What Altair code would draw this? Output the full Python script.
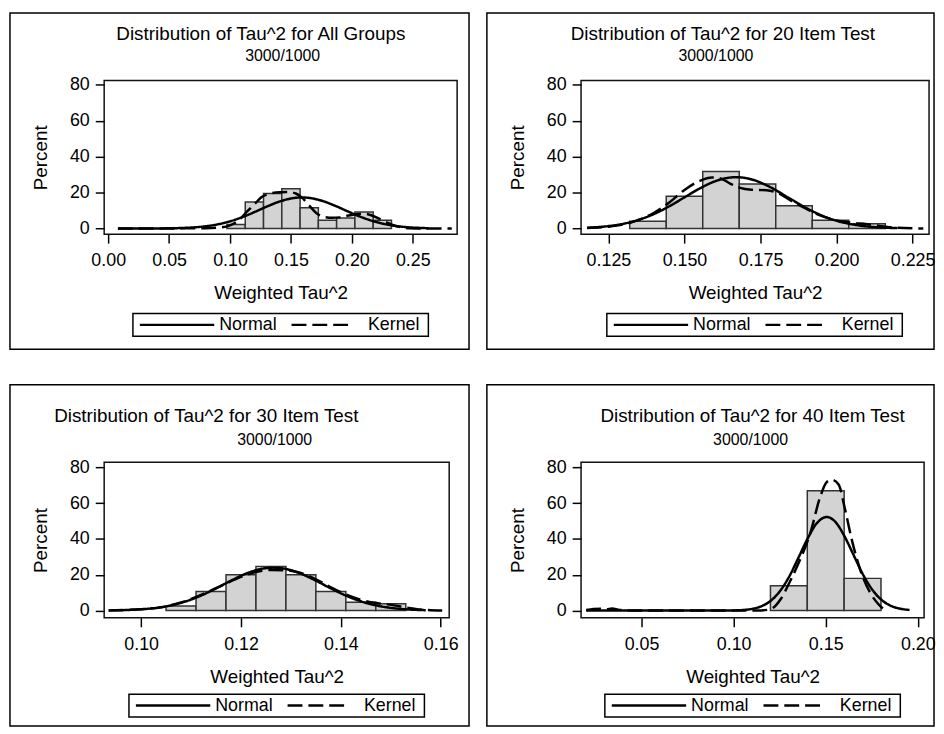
import altair as alt
import pandas as pd

FONT = "Liberation Sans"

titles = [
    "Distribution of Tau^2 for All Groups",
    "Distribution of Tau^2 for 20 Item Test",
    "Distribution of Tau^2 for 30 Item Test",
    "Distribution of Tau^2 for 40 Item Test",
]
subtitle = "3000/1000"
x_title = "Weighted Tau^2"
y_title = "Percent"
curve_names = ["Normal", "Kernel"]
y_ticks = [0, 20, 40, 60, 80]

# ---------------- Panel 1: All Groups ----------------
p1_bin_lo = [0.0975, 0.1125, 0.1275, 0.1425, 0.1575, 0.1725, 0.1875, 0.2025, 0.2175]
p1_bin_hi = [0.1125, 0.1275, 0.1425, 0.1575, 0.1725, 0.1875, 0.2025, 0.2175, 0.2325]
p1_pct = [2.2, 14.7, 19.5, 22.1, 11.6, 4.6, 5.9, 9.2, 4.6]
p1_norm_x = [0.008, 0.031, 0.051, 0.061, 0.071, 0.081, 0.091, 0.101, 0.111, 0.121, 0.131,
             0.141, 0.151, 0.159, 0.166, 0.176, 0.186, 0.196, 0.206, 0.216, 0.226, 0.236,
             0.246, 0.256, 0.263]
p1_norm_y = [0.0, 0.02, 0.13, 0.31, 0.67, 1.34, 2.48, 4.21, 6.57, 9.44, 12.45, 15.1, 16.84,
             17.3, 16.95, 15.32, 12.74, 9.74, 6.84, 4.42, 2.62, 1.43, 0.72, 0.33, 0.17]
p1_kern_x = [0.008, 0.05, 0.08, 0.092, 0.1, 0.107, 0.114, 0.12, 0.126, 0.133, 0.141, 0.148,
             0.154, 0.159, 0.165, 0.171, 0.177, 0.184, 0.19, 0.197, 0.204, 0.21, 0.216, 0.222,
             0.228, 0.234, 0.24, 0.248, 0.26, 0.282]
p1_kern_y = [0.0, 0.05, 0.2, 0.6, 1.8, 4.5, 9.5, 13.5, 17.5, 19.5, 20.2, 20.3, 19.5, 17.2,
             12.8, 8.5, 6.5, 6.0, 6.2, 7.2, 8.0, 8.3, 7.4, 5.6, 3.6, 1.8, 0.7, 0.2, 0.05, 0.0]
p1_ticks = [0.00, 0.05, 0.10, 0.15, 0.20, 0.25]

# ---------------- Panel 2: 20 Item Test ----------------
p2_bin_lo = [0.132, 0.144, 0.156, 0.168, 0.180, 0.192, 0.204]
p2_bin_hi = [0.144, 0.156, 0.168, 0.180, 0.192, 0.204, 0.216]
p2_pct = [4.0, 18.0, 31.8, 24.8, 12.7, 4.6, 2.6]
p2_norm_x = [0.118, 0.125, 0.13, 0.135, 0.14, 0.145, 0.15, 0.155, 0.16, 0.167, 0.172, 0.178,
             0.184, 0.19, 0.196, 0.202, 0.208, 0.214, 0.22]
p2_norm_y = [0.45, 1.35, 2.68, 4.87, 8.1, 12.38, 17.35, 22.29, 26.28, 28.6, 27.39, 23.2,
             17.35, 11.45, 6.67, 3.43, 1.56, 0.63, 0.22]
p2_kern_x = [0.118, 0.125, 0.13, 0.135, 0.14, 0.145, 0.15, 0.155, 0.159, 0.162, 0.165, 0.168,
             0.172, 0.177, 0.181, 0.185, 0.19, 0.195, 0.2, 0.205, 0.21, 0.215, 0.22, 0.2285]
p2_kern_y = [0.3, 1.0, 2.3, 4.8, 8.8, 14.5, 21.5, 26.5, 28.4, 27.8, 25.0, 22.8, 21.6, 21.3,
             19.5, 15.5, 11.0, 7.0, 4.5, 3.2, 2.4, 1.3, 0.4, 0.0]
p2_ticks = [0.125, 0.150, 0.175, 0.200, 0.225]

# ---------------- Panel 3: 30 Item Test ----------------
p3_bin_lo = [0.105, 0.111, 0.117, 0.123, 0.129, 0.135, 0.141, 0.147]
p3_bin_hi = [0.111, 0.117, 0.123, 0.129, 0.135, 0.141, 0.147, 0.153]
p3_pct = [2.6, 10.6, 20.0, 24.7, 20.0, 10.6, 4.6, 3.8]
p3_norm_x = [0.0935, 0.097, 0.1, 0.103, 0.106, 0.109, 0.112, 0.115, 0.118, 0.121, 0.124,
             0.1265, 0.129, 0.132, 0.135, 0.138, 0.141, 0.144, 0.147, 0.15, 0.153, 0.157]
p3_norm_y = [0.1, 0.31, 0.72, 1.52, 2.94, 5.19, 8.39, 12.39, 16.73, 20.63, 23.26, 24.0,
             23.26, 20.63, 16.73, 12.39, 8.39, 5.19, 2.94, 1.52, 0.72, 0.23]
p3_kern_x = [0.0935, 0.1, 0.104, 0.108, 0.112, 0.116, 0.12, 0.123, 0.126, 0.129, 0.132, 0.135,
             0.138, 0.141, 0.144, 0.147, 0.15, 0.153, 0.156, 0.1603]
p3_kern_y = [0.1, 0.8, 1.8, 4.6, 8.8, 13.8, 18.8, 21.6, 22.7, 22.5, 21.0, 17.5, 13.0, 9.0,
             6.0, 4.2, 3.2, 1.8, 0.6, 0.0]
p3_ticks = [0.10, 0.12, 0.14, 0.16]

# ---------------- Panel 4: 40 Item Test ----------------
p4_bin_lo = [0.12, 0.14, 0.16]
p4_bin_hi = [0.14, 0.16, 0.18]
p4_pct = [13.9, 67.0, 18.0]
p4_norm_x = [0.02, 0.06, 0.09, 0.1, 0.105, 0.11, 0.115, 0.12, 0.125, 0.13, 0.135, 0.14, 0.145,
             0.1505, 0.155, 0.16, 0.165, 0.17, 0.175, 0.18, 0.185, 0.19, 0.1955]
p4_norm_y = [0.0, 0.0, 0.01, 0.1, 0.33, 0.95, 2.4, 5.38, 10.67, 18.7, 29.1, 39.9, 48.6, 52.3,
             49.8, 41.9, 31.3, 20.6, 12.06, 6.23, 2.85, 1.15, 0.37]
p4_kern_x = [0.02, 0.024, 0.028, 0.031, 0.034, 0.038, 0.045, 0.06, 0.1, 0.115, 0.12, 0.1256,
             0.13, 0.1346, 0.1417, 0.1471, 0.1507, 0.1534, 0.157, 0.1605, 0.1641, 0.1686,
             0.174, 0.1785, 0.182]
p4_kern_y = [0.3, 0.9, 1.1, 0.6, 1.2, 0.4, 0.05, 0.0, 0.0, 0.1, 0.8, 6.5, 15.0, 25.0, 43.5,
             63.9, 72.0, 73.0, 70.4, 56.5, 39.8, 23.2, 10.2, 3.7, 0.3]
p4_ticks = [0.05, 0.10, 0.15, 0.20]

# ---------------- layout (pixels, relative to each plot area) ----------------
layouts = [
    dict(w=356, h=155, xdom=[-0.0033, 0.2864], ydom=[-3.14, 82.4], fmt=".2f",
         tx=158, ty=-47, sx=180, sy=-25, bl=-95, br=368, bt=-68, bb=271, lx=29, ly=235),
    dict(w=351, h=155, xdom=[0.116, 0.2304], ydom=[-3.14, 82.4], fmt=".3f",
         tx=143, ty=-47, sx=136, sy=-25, bl=-95, br=356, bt=-68, bb=271, lx=26, ly=235),
    dict(w=348, h=157, xdom=[0.0926, 0.1617], ydom=[-4.06, 82.9], fmt=".2f",
         tx=103, ty=-47, sx=172, sy=-22, bl=-95, br=368, bt=-78, bb=266, lx=25, ly=234),
    dict(w=346, h=157, xdom=[0.0172, 0.2034], ydom=[-4.06, 82.9], fmt=".2f",
         tx=173, ty=-47, sx=171, sy=-22, bl=-95, br=356, bt=-78, bb=266, lx=24, ly=234),
]


def one(text):
    return pd.DataFrame({"t": [text]})


def panel(title, lo, hi, pct, nx, ny, kx, ky, ticks, lay):
    bars_df = pd.DataFrame({"lo": lo, "hi": hi, "pct": pct})
    lines_df = pd.concat([
        pd.DataFrame({"x": nx, "y": ny, "curve": curve_names[0], "ord": list(range(len(nx)))}),
        pd.DataFrame({"x": kx, "y": ky, "curve": curve_names[1], "ord": list(range(len(kx)))}),
    ])
    xs = alt.Scale(domain=lay["xdom"], nice=False, zero=False)
    ys = alt.Scale(domain=lay["ydom"], nice=False, zero=False)
    xaxis = alt.Axis(values=ticks, format=lay["fmt"], title=x_title, labelPadding=9, titlePadding=14)
    yaxis = alt.Axis(values=y_ticks, format="d", title=y_title, labelPadding=6, titlePadding=19)

    bars = alt.Chart(bars_df).mark_bar(fill="#d3d3d3", stroke="#333333", strokeWidth=1.5).encode(
        x=alt.X("lo:Q", scale=xs, axis=xaxis),
        x2="hi:Q",
        y=alt.Y("pct:Q", scale=ys, axis=yaxis),
        y2=alt.datum(0),
    )
    lines = alt.Chart(lines_df).mark_line(color="black", strokeWidth=2.5, interpolate="monotone").encode(
        x=alt.X("x:Q", scale=xs, axis=xaxis),
        y=alt.Y("y:Q", scale=ys, axis=yaxis),
        strokeDash=alt.StrokeDash("curve:N", scale=alt.Scale(domain=curve_names, range=[[1, 0], [15, 6]]),
                                  legend=None),
        order="ord:Q",
    )
    border = alt.Chart(one("b")).mark_rect(fillOpacity=0, stroke="black", strokeWidth=1.5).encode(
        x=alt.value(lay["bl"]), x2=alt.value(lay["br"]),
        y=alt.value(lay["bt"]), y2=alt.value(lay["bb"]),
    )
    ttl = alt.Chart(one(title)).mark_text(
        font=FONT, fontSize=19, color="black", align="center", baseline="middle").encode(
        text="t:N", x=alt.value(lay["tx"]), y=alt.value(lay["ty"]))
    sub = alt.Chart(one(subtitle)).mark_text(
        font=FONT, fontSize=16, color="black", align="center", baseline="middle").encode(
        text="t:N", x=alt.value(lay["sx"]), y=alt.value(lay["sy"]))

    # legend box (Normal solid, Kernel dashed)
    lx, ly = lay["lx"], lay["ly"]
    lbox = alt.Chart(one("legend")).mark_rect(fill="white", stroke="black", strokeWidth=1.5).encode(
        x=alt.value(lx), x2=alt.value(lx + 298), y=alt.value(ly), y2=alt.value(ly + 23))
    lsolid = alt.Chart(one(curve_names[0])).mark_rule(color="black", strokeWidth=2.5).encode(
        x=alt.value(lx + 7), x2=alt.value(lx + 82), y=alt.value(ly + 11.5))
    ldash = alt.Chart(one(curve_names[1])).mark_rule(color="black", strokeWidth=2.5, strokeDash=[15, 6]).encode(
        x=alt.value(lx + 160), x2=alt.value(lx + 217), y=alt.value(ly + 11.5))
    lt1 = alt.Chart(one(curve_names[0])).mark_text(
        font=FONT, fontSize=18, color="black", align="left", baseline="middle").encode(
        text="t:N", x=alt.value(lx + 87), y=alt.value(ly + 12))
    lt2 = alt.Chart(one(curve_names[1])).mark_text(
        font=FONT, fontSize=18, color="black", align="left", baseline="middle").encode(
        text="t:N", x=alt.value(lx + 237), y=alt.value(ly + 12))

    return alt.layer(bars, lines, border, ttl, sub, lbox, lsolid, ldash, lt1, lt2).properties(
        width=lay["w"], height=lay["h"])


p1 = panel(titles[0], p1_bin_lo, p1_bin_hi, p1_pct, p1_norm_x, p1_norm_y, p1_kern_x, p1_kern_y, p1_ticks, layouts[0])
p2 = panel(titles[1], p2_bin_lo, p2_bin_hi, p2_pct, p2_norm_x, p2_norm_y, p2_kern_x, p2_kern_y, p2_ticks, layouts[1])
p3 = panel(titles[2], p3_bin_lo, p3_bin_hi, p3_pct, p3_norm_x, p3_norm_y, p3_kern_x, p3_kern_y, p3_ticks, layouts[2])
p4 = panel(titles[3], p4_bin_lo, p4_bin_hi, p4_pct, p4_norm_x, p4_norm_y, p4_kern_x, p4_kern_y, p4_ticks, layouts[3])

chart = (
    alt.concat(p1, p2, p3, p4, columns=2, spacing={"row": 32, "column": 14})
    .resolve_scale(x="independent", y="independent", strokeDash="independent")
    .properties(padding=0)
    .configure(font=FONT)
    .configure_view(stroke="#111111", strokeWidth=1.5)
    .configure_axis(
        labelFont=FONT, titleFont=FONT, labelFontSize=18, titleFontSize=19,
        labelColor="black", titleColor="black", tickColor="black", tickSize=9, tickWidth=1.5,
        domain=False, grid=False, titleFontWeight="normal", labelFlush=False, labelOverlap=False,
    )
)

chart.save("out.html", embed_options={"renderer": "svg", "actions": False})
